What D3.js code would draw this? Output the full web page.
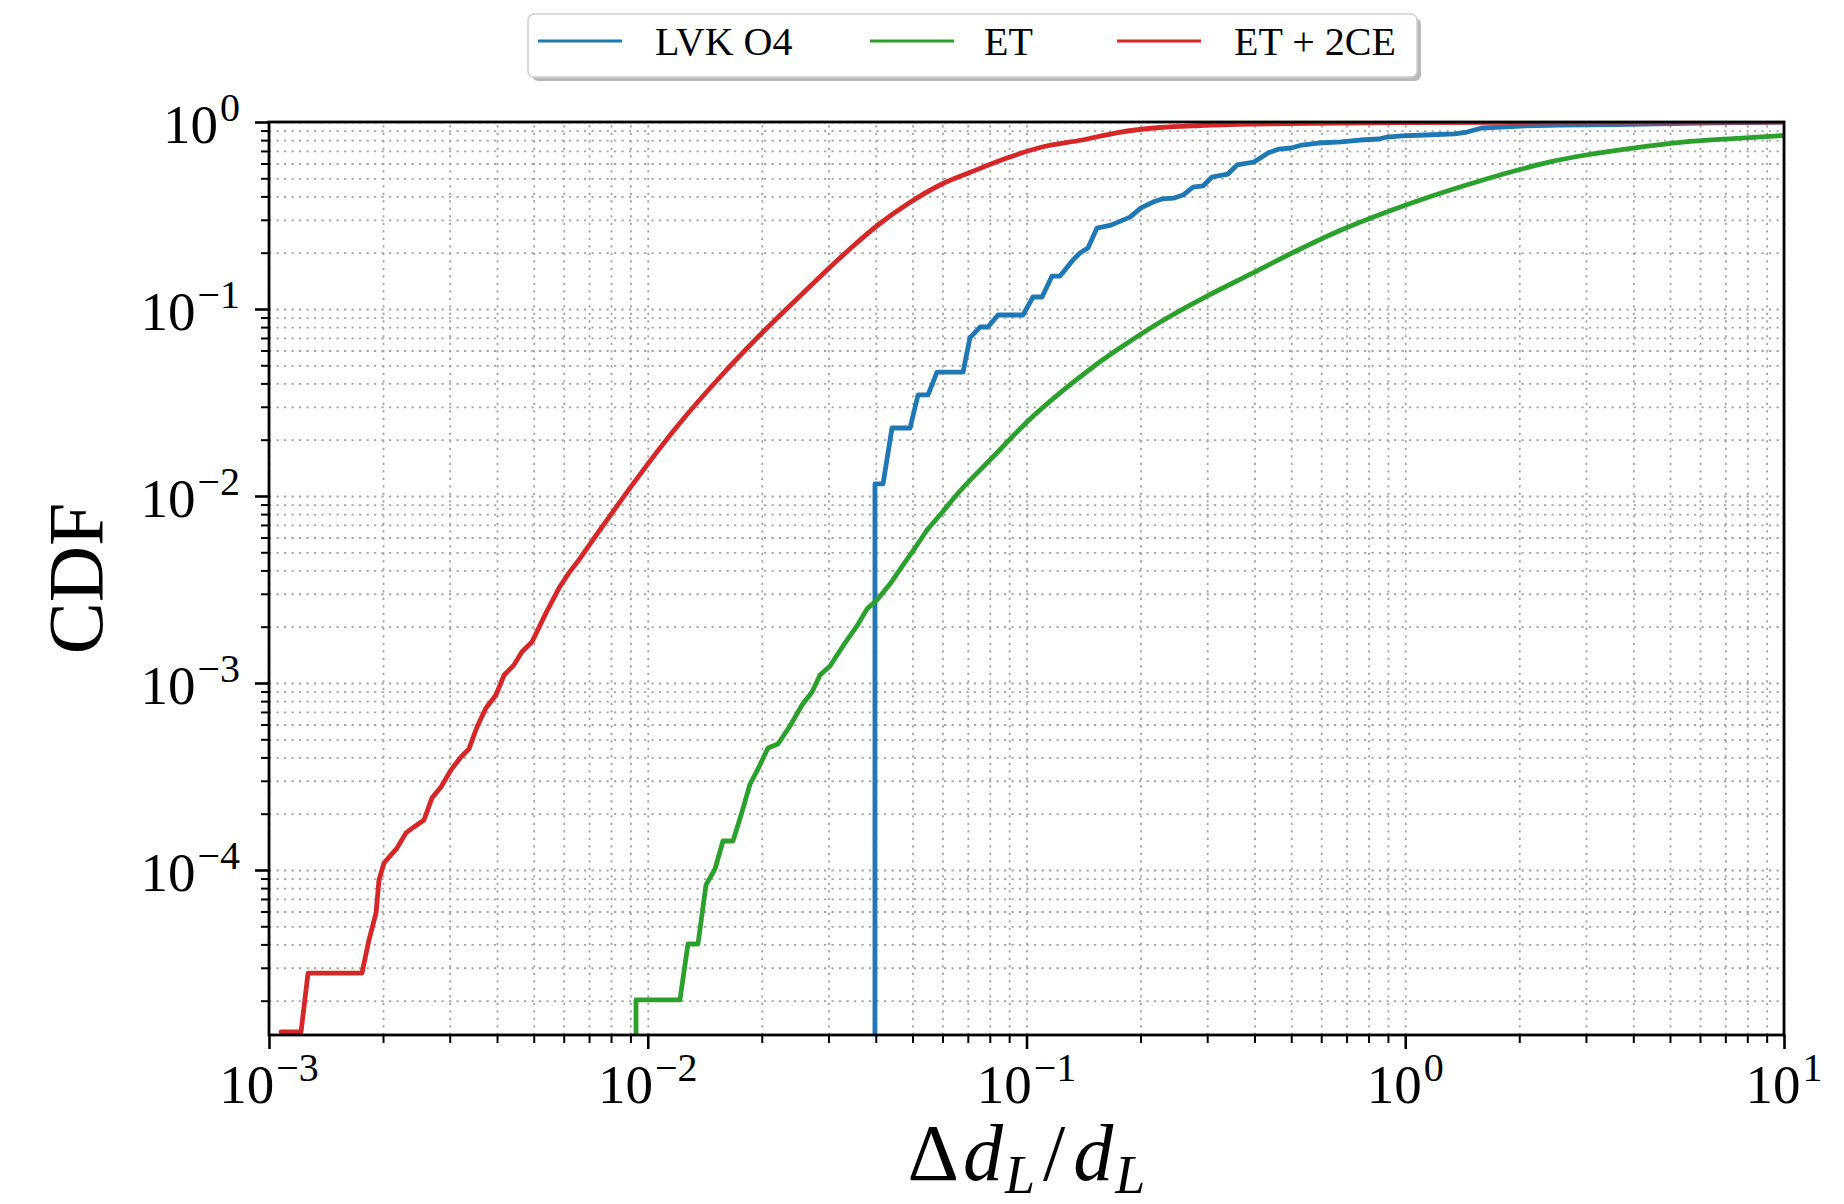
<!DOCTYPE html>
<html>
<head>
<meta charset="utf-8">
<script src="https://cdn.jsdelivr.net/npm/d3@7"></script>
<style>
  html, body { margin: 0; padding: 0; background: #ffffff; }
  svg { display: block; }
  text { font-family: "Liberation Serif", "DejaVu Serif", serif; fill: #000; }
</style>
</head>
<body>
<svg id="chart" width="1844" height="1204"></svg>
<script>
// Cumulative distributions of the relative luminosity-distance error, [Δd_L/d_L, CDF]
const lvkO4 = [
  [0.0398, 1e-6], [0.0398, 0.0116], [0.04181, 0.0116], [0.04414, 0.0231], [0.04926, 0.0231],
  [0.05171, 0.0347], [0.05495, 0.0347], [0.05804, 0.046], [0.068, 0.046], [0.0709, 0.070],
  [0.0754, 0.0801], [0.0791, 0.0801], [0.0841, 0.0929], [0.0979, 0.0929], [0.104, 0.1159],
  [0.1099, 0.1159], [0.1168, 0.150], [0.1226, 0.150], [0.1327, 0.183], [0.1384, 0.1993],
  [0.1453, 0.212], [0.1535, 0.271], [0.1671, 0.281], [0.1876, 0.310], [0.2006, 0.347],
  [0.2158, 0.373], [0.2279, 0.388], [0.2452, 0.392], [0.259, 0.407], [0.2752, 0.449],
  [0.2924, 0.455], [0.3089, 0.508], [0.3404, 0.527], [0.3596, 0.589], [0.3989, 0.611],
  [0.4342, 0.683], [0.4642, 0.717], [0.4992, 0.726], [0.5339, 0.753], [0.5885, 0.772],
  [0.6767, 0.782], [0.7595, 0.801], [0.8525, 0.811], [0.8951, 0.831], [0.9804, 0.842],
  [1.127, 0.852], [1.353, 0.863], [1.455, 0.884], [1.594, 0.929], [1.790, 0.940],
  [2.021, 0.952], [2.546, 0.964], [3.6, 0.967], [6.0, 0.988], [10, 1.0]
];

const et = [
  [0.00931, 1e-6], [0.00931, 2.02e-5], [0.01216, 2.02e-5], [0.01277, 4.02e-5], [0.01357, 4.02e-5],
  [0.01425, 8.32e-5], [0.01505, 1.012e-4], [0.0158, 1.429e-4], [0.01679, 1.429e-4], [0.01773, 2.04e-4],
  [0.01862, 2.88e-4], [0.01955, 3.47e-4], [0.02077, 4.49e-4], [0.02207, 4.72e-4], [0.02374, 5.89e-4],
  [0.02555, 7.62e-4], [0.02715, 8.95e-4], [0.0285, 1.104e-3], [0.03028, 1.233e-3], [0.03277, 1.578e-3],
  [0.03569, 2.018e-3], [0.03793, 2.49e-3], [0.0403, 2.78e-3], [0.0436, 3.38e-3], [0.04719, 4.27e-3],
  [0.05076, 5.27e-3], [0.05462, 6.58e-3], [0.05909, 7.91e-3], [0.06675, 0.01063], [0.08156, 0.01618],
  [0.1003, 0.02488], [0.1226, 0.03556], [0.1498, 0.04898], [0.1842, 0.0655], [0.2279, 0.0862],
  [0.2996, 0.1172], [0.3939, 0.1550], [0.4992, 0.1980], [0.6725, 0.2630], [0.879, 0.3262],
  [1.155, 0.3972], [1.51, 0.472], [1.985, 0.5537], [2.411, 0.612], [2.946, 0.662], [3.993, 0.726],
  [5.412, 0.781], [7.334, 0.815], [10, 0.847]
];

const et2ce = [
  [1.076e-3, 1.36e-5], [1.215e-3, 1.36e-5], [1.268e-3, 2.81e-5], [1.76e-3, 2.81e-5], [1.836e-3, 4.22e-5],
  [1.917e-3, 5.89e-5], [1.952e-3, 8.85e-5], [2.012e-3, 1.09e-4], [2.074e-3, 1.17e-4], [2.178e-3, 1.31e-4],
  [2.30e-3, 1.58e-4], [2.414e-3, 1.70e-4], [2.566e-3, 1.85e-4], [2.694e-3, 2.43e-4], [2.845e-3, 2.78e-4],
  [3.024e-3, 3.43e-4], [3.213e-3, 4.02e-4], [3.373e-3, 4.44e-4], [3.541e-3, 5.82e-4], [3.74e-3, 7.35e-4],
  [3.975e-3, 8.63e-4], [4.174e-3, 1.10e-3], [4.435e-3, 1.25e-3], [4.656e-3, 1.47e-3], [4.948e-3, 1.66e-3],
  [5.388e-3, 2.37e-3], [5.83e-3, 3.22e-3], [6.194e-3, 3.88e-3], [6.58e-3, 4.55e-3], [7.48e-3, 6.58e-3],
  [9.31e-3, 0.0122], [0.01216, 0.02455], [0.01552, 0.04329], [0.01979, 0.07261], [0.02523, 0.1173],
  [0.0344, 0.212], [0.04054, 0.2813], [0.04896, 0.3688], [0.05909, 0.4603], [0.07137, 0.5402],
  [0.08882, 0.642], [0.1099, 0.735], [0.1401, 0.8012], [0.1744, 0.8786], [0.2252, 0.9346],
  [0.2871, 0.9578], [0.3939, 0.9757], [0.5604, 0.9841], [0.9685, 0.9926], [2.411, 0.9975], [10, 1.0]
];

const seriesNames = ["LVK O4", "ET", "ET + 2CE"];
const seriesColors = ["#1f77b4", "#2ca02c", "#d62728"];
const seriesData = [lvkO4, et, et2ce];
// beyond this abscissa a curve is dense enough to be drawn as a smooth line
const smoothFrom = [Infinity, 0.05462, 7.48e-3];

const xMajorTicks = [1e-3, 1e-2, 1e-1, 1e0, 1e1];
const xTickExponents = ["\u22123", "\u22122", "\u22121", "0", "1"];
const yMajorTicks = [1e-4, 1e-3, 1e-2, 1e-1, 1e0];
const yTickExponents = ["\u22124", "\u22123", "\u22122", "\u22121", "0"];

// ---- layout ----
const plotLeft = 269, plotRight = 1784, plotTop = 122, plotBottom = 1035;
const svg = d3.select("#chart");

const x = d3.scaleLog().domain([1e-3, 10]).range([plotLeft, plotRight]);
const y = d3.scaleLog().domain([1.311e-5, 1]).range([plotBottom, plotTop]);

function minorTicks(domain) {
  const out = [];
  const lo = Math.floor(Math.log10(domain[0])), hi = Math.ceil(Math.log10(domain[1]));
  for (let e = lo; e < hi; e++) {
    for (let m = 2; m <= 9; m++) {
      const v = m * Math.pow(10, e);
      if (v >= domain[0] && v <= domain[1]) out.push(v);
    }
  }
  return out;
}
const xMinor = minorTicks(x.domain());
const yMinor = minorTicks(y.domain());

// ---- dotted grid on major and minor ticks ----
const grid = svg.append("g").attr("class", "grid");
grid.append("g")
  .attr("transform", `translate(0,${plotBottom})`)
  .call(d3.axisBottom(x).tickValues(xMajorTicks.concat(xMinor)).tickSize(-(plotBottom - plotTop)).tickFormat(""))
  .call(g => g.select(".domain").remove());
grid.append("g")
  .attr("transform", `translate(${plotLeft},0)`)
  .call(d3.axisLeft(y).tickValues(yMajorTicks.concat(yMinor)).tickSize(-(plotRight - plotLeft)).tickFormat(""))
  .call(g => g.select(".domain").remove());
grid.selectAll("line")
  .attr("stroke", "#a2a2a2")
  .attr("stroke-width", 1.8)
  .attr("stroke-dasharray", "2.2,5.3");

// ---- curves ----
svg.append("clipPath").attr("id", "plot-clip")
  .append("rect").attr("x", plotLeft).attr("y", plotTop)
  .attr("width", plotRight - plotLeft).attr("height", plotBottom - plotTop);

const stepLine = d3.line().x(d => x(d[0])).y(d => y(d[1]));
const smoothLine = d3.line().x(d => x(d[0])).y(d => y(d[1])).curve(d3.curveMonotoneX);
const curves = svg.append("g").attr("clip-path", "url(#plot-clip)");
seriesData.forEach((data, i) => {
  const rough = data.filter(d => d[0] <= smoothFrom[i]);
  const smooth = data.filter(d => d[0] >= smoothFrom[i]);
  const g = curves.append("g")
    .attr("fill", "none")
    .attr("stroke", seriesColors[i])
    .attr("stroke-width", 4.8)
    .attr("stroke-linejoin", "round")
    .attr("stroke-linecap", "round");
  g.append("path").datum(rough).attr("d", stepLine);
  if (smooth.length > 1) g.append("path").datum(smooth).attr("d", smoothLine);
});

// ---- ticks (outward) ----
function styleTicks(g, w) {
  g.select(".domain").remove();
  g.selectAll("line").attr("stroke", "#000").attr("stroke-width", w);
}
svg.append("g").attr("transform", `translate(0,${plotBottom})`)
  .call(d3.axisBottom(x).tickValues(xMinor).tickSize(8).tickFormat(""))
  .call(g => styleTicks(g, 2));
svg.append("g").attr("transform", `translate(0,${plotBottom})`)
  .call(d3.axisBottom(x).tickValues(xMajorTicks).tickSize(14).tickFormat(""))
  .call(g => styleTicks(g, 2.6));
svg.append("g").attr("transform", `translate(${plotLeft},0)`)
  .call(d3.axisLeft(y).tickValues(yMinor).tickSize(8).tickFormat(""))
  .call(g => styleTicks(g, 2));
svg.append("g").attr("transform", `translate(${plotLeft},0)`)
  .call(d3.axisLeft(y).tickValues(yMajorTicks).tickSize(14).tickFormat(""))
  .call(g => styleTicks(g, 2.6));

// ---- frame ----
svg.append("rect")
  .attr("x", plotLeft).attr("y", plotTop)
  .attr("width", plotRight - plotLeft).attr("height", plotBottom - plotTop)
  .attr("fill", "none").attr("stroke", "#000").attr("stroke-width", 2.8);

// ---- tick labels: 10 with superscript exponent ----
const xLabels = svg.append("g");
xMajorTicks.forEach((v, i) => {
  const t = xLabels.append("text")
    .attr("x", x(v)).attr("y", 1103)
    .attr("text-anchor", "middle")
    .attr("font-size", 55);
  t.append("tspan").text("10");
  t.append("tspan").attr("dy", -22).attr("dx", 2).attr("font-size", 40).text(xTickExponents[i]);
});
const yLabels = svg.append("g");
yMajorTicks.forEach((v, i) => {
  const t = yLabels.append("text")
    .attr("x", 240).attr("y", y(v) + 21)
    .attr("text-anchor", "end")
    .attr("font-size", 55);
  t.append("tspan").text("10");
  t.append("tspan").attr("dy", -22).attr("dx", 2).attr("font-size", 40).text(yTickExponents[i]);
});

// ---- axis titles ----
svg.append("text")
  .attr("transform", `translate(102,${(plotTop + plotBottom) / 2}) rotate(-90)`)
  .attr("text-anchor", "middle")
  .attr("font-size", 78)
  .text("CDF");

const xt = svg.append("text")
  .attr("x", (plotLeft + plotRight) / 2).attr("y", 1180)
  .attr("text-anchor", "middle")
  .attr("font-size", 80);
xt.append("tspan").text("\u0394");
xt.append("tspan").attr("font-style", "italic").attr("dx", 4).text("d");
xt.append("tspan").attr("font-style", "italic").attr("font-size", 54).attr("dy", 13).attr("dx", 2).text("L");
xt.append("tspan").attr("dy", -13).attr("dx", 8).text("/");
xt.append("tspan").attr("font-style", "italic").attr("dx", 8).text("d");
xt.append("tspan").attr("font-style", "italic").attr("font-size", 54).attr("dy", 13).attr("dx", 2).text("L");

// ---- legend ----
const legend = svg.append("g");
legend.append("rect")
  .attr("x", 532).attr("y", 18).attr("width", 889).attr("height", 63).attr("rx", 6)
  .attr("fill", "#9a9a9a").attr("opacity", 0.7);
legend.append("rect")
  .attr("x", 528).attr("y", 14).attr("width", 889).attr("height", 63).attr("rx", 6)
  .attr("fill", "#ffffff").attr("stroke", "#cfcfcf").attr("stroke-width", 1.5);
const legendLineX = [538, 870, 1117];
const legendTextX = [655, 984, 1234];
seriesNames.forEach((name, i) => {
  legend.append("line")
    .attr("x1", legendLineX[i]).attr("x2", legendLineX[i] + 84)
    .attr("y1", 41).attr("y2", 41)
    .attr("stroke", seriesColors[i]).attr("stroke-width", 3.2);
  legend.append("text")
    .attr("x", legendTextX[i]).attr("y", 55)
    .attr("font-size", 40)
    .text(name);
});
</script>
</body>
</html>
